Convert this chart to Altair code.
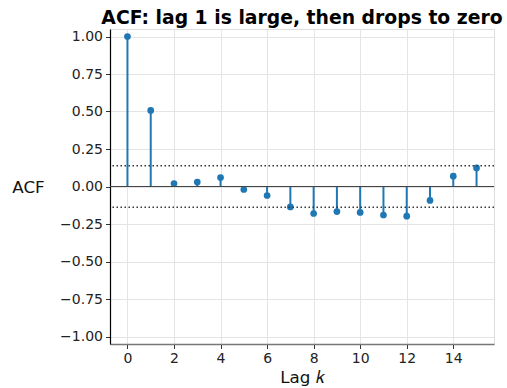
import altair as alt
import pandas as pd

lags = list(range(16))
acf = [1.0, 0.507, 0.02, 0.03, 0.06, -0.02, -0.06, -0.136, -0.18, -0.167,
       -0.173, -0.19, -0.198, -0.093, 0.069, 0.124]
conf = 0.1386
x_ticks = [0, 2, 4, 6, 8, 10, 12, 14]
y_ticks = [-1.0, -0.75, -0.5, -0.25, 0.0, 0.25, 0.5, 0.75, 1.0]

df = pd.DataFrame({"lag": lags, "acf": acf, "zero": [0.0] * len(lags)})
bounds = pd.DataFrame({"b": [conf, -conf]})
zero_df = pd.DataFrame({"z": [0.0]})

FONT = "DejaVu Sans"
BLUE = "#1f77b4"

xscale = alt.Scale(domain=[-0.75, 15.75], nice=False, zero=False)
yscale = alt.Scale(domain=[-1.05, 1.05], nice=False)

xaxis = alt.Axis(values=x_ticks, title="Lag 𝑘", grid=True, gridColor="#e4e4e4",
                 labelFontSize=14, titleFontSize=16.7, titleFontWeight="normal",
                 labelColor="#222", titleColor="#111", domainColor="#777",
                 domainWidth=1.5, tickColor="#333", tickSize=4.5, labelPadding=3,
                 titlePadding=4, labelFont=FONT, titleFont=FONT, format="d",
                 labelOverlap=False, labelFlush=False)
yaxis = alt.Axis(values=y_ticks, title="ACF", grid=True, gridColor="#e4e4e4",
                 labelFontSize=14, titleFontSize=16.7, titleFontWeight="normal",
                 labelColor="#222", titleColor="#111", domainColor="#000",
                 domainWidth=1.2, tickColor="#333", tickSize=4.5, labelPadding=3,
                 titleAngle=0, titleX=-82, titleY=158, titleAlign="center",
                 titleBaseline="middle", labelFont=FONT, titleFont=FONT,
                 format=".2f", labelOverlap=False, labelFlush=False)

stems = alt.Chart(df).mark_rule(color=BLUE, strokeWidth=2).encode(
    x=alt.X("lag:Q", scale=xscale, axis=xaxis),
    y=alt.Y("acf:Q", scale=yscale, axis=yaxis),
    y2="zero:Q",
)
points = alt.Chart(df).mark_circle(color=BLUE, size=45, opacity=1).encode(
    x=alt.X("lag:Q", scale=xscale, axis=xaxis),
    y=alt.Y("acf:Q", scale=yscale, axis=yaxis),
)
zero_line = alt.Chart(zero_df).mark_rule(color="#444", strokeWidth=1.2).encode(
    y=alt.Y("z:Q", scale=yscale, axis=yaxis),
)
conf_lines = alt.Chart(bounds).mark_rule(color="#333", strokeWidth=1.5,
                                         strokeDash=[1.5, 2.5]).encode(
    y=alt.Y("b:Q", scale=yscale, axis=yaxis),
)

chart = alt.layer(stems, points, zero_line, conf_lines).properties(
    width=384, height=315,
    title=alt.TitleParams("ACF: lag 1 is large, then drops to zero",
                          fontSize=18.8, fontWeight="bold", font=FONT,
                          color="#000", anchor="middle", offset=1),
    autosize=alt.AutoSizeParams(type="none"),
    padding={"left": 110, "top": 29, "right": 13, "bottom": 44},
).configure_view(stroke="#777", strokeWidth=1.5).configure(background="white")

chart.save("out.html", embed_options={"renderer": "svg", "actions": False})
